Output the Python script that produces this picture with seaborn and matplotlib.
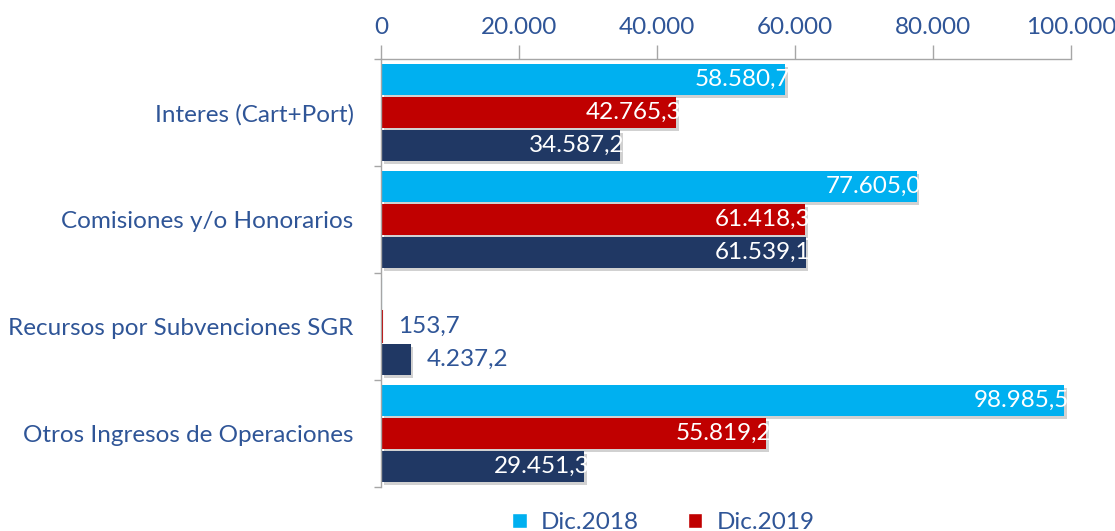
import numpy as np
import pandas as pd
import matplotlib
matplotlib.use("Agg")
import matplotlib.pyplot as plt
import matplotlib.patheffects as pe
from matplotlib.patches import Patch
import seaborn as sns

CATEGORIES = ["Interes (Cart+Port)", "Comisiones y/o Honorarios",
              "Recursos por Subvenciones SGR", "Otros Ingresos de Operaciones"]
SERIES = ["Dic.2018", "Dic.2019", "Dic.2020"]
DIC_2018 = [58580.7, 77605.0, 0.0, 98985.5]
DIC_2019 = [42765.3, 61418.3, 153.7, 55819.2]
DIC_2020 = [34587.2, 61539.1, 4237.2, 29451.3]
TICKS = [0, 20000, 40000, 60000, 80000, 100000]

COLORS = ["#00B0F0", "#C00000", "#203864"]
TEXT_BLUE = "#2F5597"
FONT = "Lato"
FS = 17.5


def fmt_es(v, dec=1):
    s = f"{v:,.{dec}f}"
    return s.replace(",", "X").replace(".", ",").replace("X", ".")


rows = []
for name, vals in zip(SERIES, [DIC_2018, DIC_2019, DIC_2020]):
    for cat, v in zip(CATEGORIES, vals):
        rows.append({"categoria": cat, "serie": name, "valor": v})
df = pd.DataFrame(rows)

sns.set_style("white")
plt.rcParams["font.family"] = [FONT, "DejaVu Sans"]

fig, ax = plt.subplots(figsize=(11.15, 5.31), dpi=100)
fig.subplots_adjust(left=0.342, right=0.9605, top=0.889, bottom=0.083)

sns.barplot(data=df, y="categoria", x="valor", hue="serie", orient="h",
            palette=COLORS, width=0.925, gap=0.06, ax=ax, legend=False,
            errorbar=None, saturation=1, linewidth=0)

shadow = [pe.SimplePatchShadow(offset=(2, -2), shadow_rgbFace="#8C8C8C", alpha=0.4), pe.Normal()]
for cont in ax.containers:
    for bar in cont:
        v = bar.get_width()
        if v < 1000:
            # very thin bar: draw as a visible sliver
            bar.set_edgecolor(bar.get_facecolor())
            bar.set_linewidth(1.5)
        else:
            bar.set_edgecolor("none")
            bar.set_path_effects(shadow)

# value labels
for cont in ax.containers:
    for bar in cont:
        v = bar.get_width()
        if v <= 0:
            continue
        yc = bar.get_y() + bar.get_height() / 2
        if v > 20000:
            ax.annotate(fmt_es(v), xy=(v, yc), xytext=(5, 0), textcoords="offset pixels",
                        ha="right", va="center", color="white", fontsize=FS)
        else:
            ax.annotate(fmt_es(v), xy=(v, yc), xytext=(16, 0), textcoords="offset pixels",
                        ha="left", va="center", color=TEXT_BLUE, fontsize=FS)

ax.set_xlim(0, 100000)
ax.set_ylim(3.5, -0.5)
ax.xaxis.tick_top()
ax.set_xticks(TICKS)
ax.set_xticklabels([fmt_es(t, 0) for t in TICKS], color=TEXT_BLUE, fontsize=FS)
ax.tick_params(axis="x", direction="out", length=10, width=1, color="#A6A6A6", pad=5, bottom=False, top=True)

ax.set_yticks(range(len(CATEGORIES)))
ax.set_yticklabels(CATEGORIES, color=TEXT_BLUE, fontsize=FS)
ax.set_yticks([-0.5, 0.5, 1.5, 2.5, 3.5], minor=True)
ax.tick_params(axis="y", which="major", length=0, pad=20)
ax.tick_params(axis="y", which="minor", direction="out", length=5, width=1, color="#A6A6A6", left=True)
ax.set_xlabel("")
ax.set_ylabel("")

for side in ["right", "bottom"]:
    ax.spines[side].set_visible(False)
for side in ["top", "left"]:
    ax.spines[side].set_color("#A6A6A6")
    ax.spines[side].set_linewidth(1)

handles = [Patch(facecolor=COLORS[0], label=SERIES[0]), Patch(facecolor=COLORS[1], label=SERIES[1])]
leg = fig.legend(handles=handles, loc="lower center", bbox_to_anchor=(0.595, -0.045), ncol=2,
                 frameon=False, fontsize=FS, handlelength=0.6, handleheight=0.6,
                 columnspacing=2.0, handletextpad=0.6)
for t in leg.get_texts():
    t.set_color(TEXT_BLUE)

fig.savefig("out.png", dpi=100)
